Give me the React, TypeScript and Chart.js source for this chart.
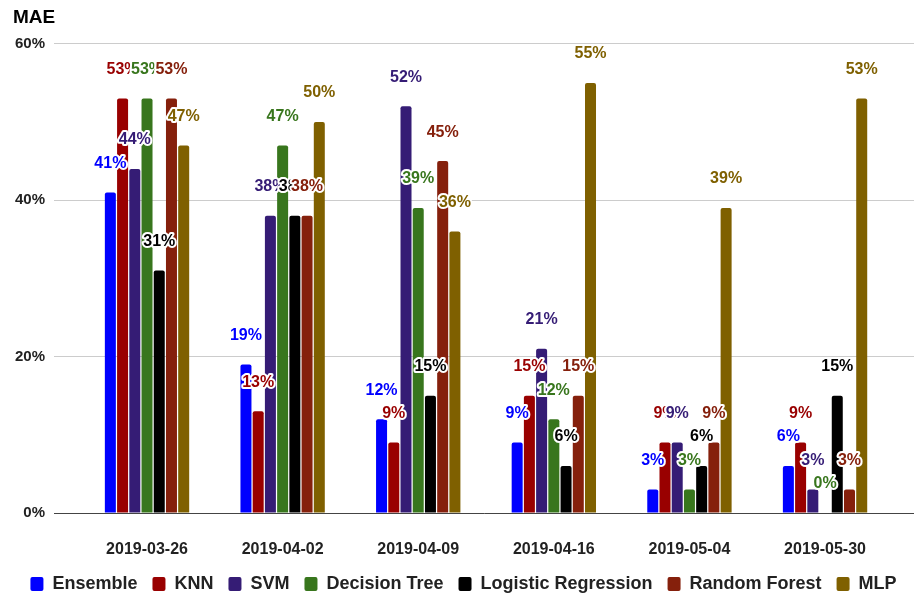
import { useEffect, useRef } from "react";
import { Chart, registerables } from "chart.js";

Chart.register(...registerables);

// Test dates (one group of bars per date)
const dates = ["2019-03-26", "2019-04-02", "2019-04-09", "2019-04-16", "2019-05-04", "2019-05-30"];

// Mean absolute error per model, in percent
const ensemble = [41, 19, 12, 9, 3, 6];
const knn = [53, 13, 9, 15, 9, 9];
const svm = [44, 38, 52, 21, 9, 3];
const decisionTree = [53, 47, 39, 12, 3, 0];
const logisticRegression = [31, 38, 15, 6, 6, 15];
const randomForest = [53, 38, 45, 15, 9, 3];
const mlp = [47, 50, 36, 55, 39, 53];

const seriesNames = ["Ensemble", "KNN", "SVM", "Decision Tree", "Logistic Regression", "Random Forest", "MLP"];
const seriesValues = [ensemble, knn, svm, decisionTree, logisticRegression, randomForest, mlp];
const seriesColors = ["#0000ff", "#990000", "#351c75", "#38761d", "#000000", "#85200c", "#7f6000"];

const yTickValues = [0, 20, 40, 60];

const FONT = "'Liberation Sans', Arial, Helvetica, sans-serif";

// Percent label above every bar, outlined in white
const valueLabels = {
  id: "valueLabels",
  afterDatasetsDraw(chart: any) {
    const ctx = chart.ctx as CanvasRenderingContext2D;
    ctx.save();
    ctx.font = `bold 16px ${FONT}`;
    ctx.textAlign = "center";
    ctx.textBaseline = "middle";
    ctx.lineJoin = "round";
    ctx.lineWidth = 4;
    ctx.strokeStyle = "#ffffff";
    chart.data.datasets.forEach((ds: any, i: number) => {
      const meta = chart.getDatasetMeta(i);
      meta.data.forEach((bar: any, j: number) => {
        const text = `${ds.data[j].y}%`;
        const y = bar.y - 29;
        ctx.strokeText(text, bar.x, y);
        ctx.fillStyle = ds.backgroundColor;
        ctx.fillText(text, bar.x, y);
      });
    });
    ctx.restore();
  },
};

export default function App() {
  const canvasRef = useRef<HTMLCanvasElement | null>(null);

  useEffect(() => {
    if (!canvasRef.current) return;
    const chart = new Chart(canvasRef.current, {
      type: "bar",
      data: {
        datasets: seriesNames.map((name, i) => ({
          label: name,
          data: seriesValues[i].map((v, j) => ({ x: j, y: v })),
          backgroundColor: seriesColors[i],
          borderWidth: 0,
          borderRadius: { topLeft: 2, topRight: 2, bottomLeft: 0, bottomRight: 0 },
          borderSkipped: "start",
          categoryPercentage: 0.631,
          barPercentage: 0.9,
        })),
      },
      options: {
        responsive: false,
        animation: false,
        layout: { padding: { left: 13, right: 0, top: 0, bottom: -7 } },
        scales: {
          x: {
            type: "linear",
            offset: false,
            min: -0.686,
            max: 5.656,
            afterBuildTicks: (scale: any) => {
              scale.ticks = dates.map((_, i) => ({ value: i }));
            },
            afterFit: (scale: any) => {
              scale.height = 47;
            },
            grid: { display: false, drawTicks: false, offset: false },
            border: { display: true, color: "#444444", width: 1 },
            ticks: {
              autoSkip: false,
              maxRotation: 0,
              padding: 27,
              color: "#222222",
              font: { family: FONT, size: 16, weight: "bold" },
              callback: (value: any) => dates[Math.round(Number(value))] ?? "",
            },
          },
          y: {
            min: 0,
            max: 60,
            afterBuildTicks: (scale: any) => {
              scale.ticks = yTickValues.map((v) => ({ value: v }));
            },
            afterFit: (scale: any) => {
              scale.width = 41;
            },
            grid: { color: "#cccccc", drawTicks: false },
            border: { display: false },
            ticks: {
              padding: 9,
              color: "#222222",
              font: { family: FONT, size: 15, weight: "bold" },
              callback: (value: any) => `${value}%`,
            },
          },
        },
        plugins: {
          title: {
            display: true,
            text: "MAE",
            align: "start",
            color: "#000000",
            font: { family: FONT, size: 19, weight: "bold" },
            padding: { top: 6, bottom: 15 },
          },
          legend: {
            position: "bottom",
            labels: {
              boxWidth: 13,
              boxHeight: 14,
              padding: 15,
              color: "#222222",
              useBorderRadius: true,
              borderRadius: 2,
              font: { family: FONT, size: 18, weight: "bold" },
            },
          },
          tooltip: { enabled: false },
        },
      } as any,
      plugins: [valueLabels],
    });
    return () => chart.destroy();
  }, []);

  return (
    <div style={{ position: "absolute", left: 0, top: 0, width: 914, height: 596, background: "#ffffff" }}>
      <canvas ref={canvasRef} width={914} height={596} style={{ display: "block" }} />
    </div>
  );
}
